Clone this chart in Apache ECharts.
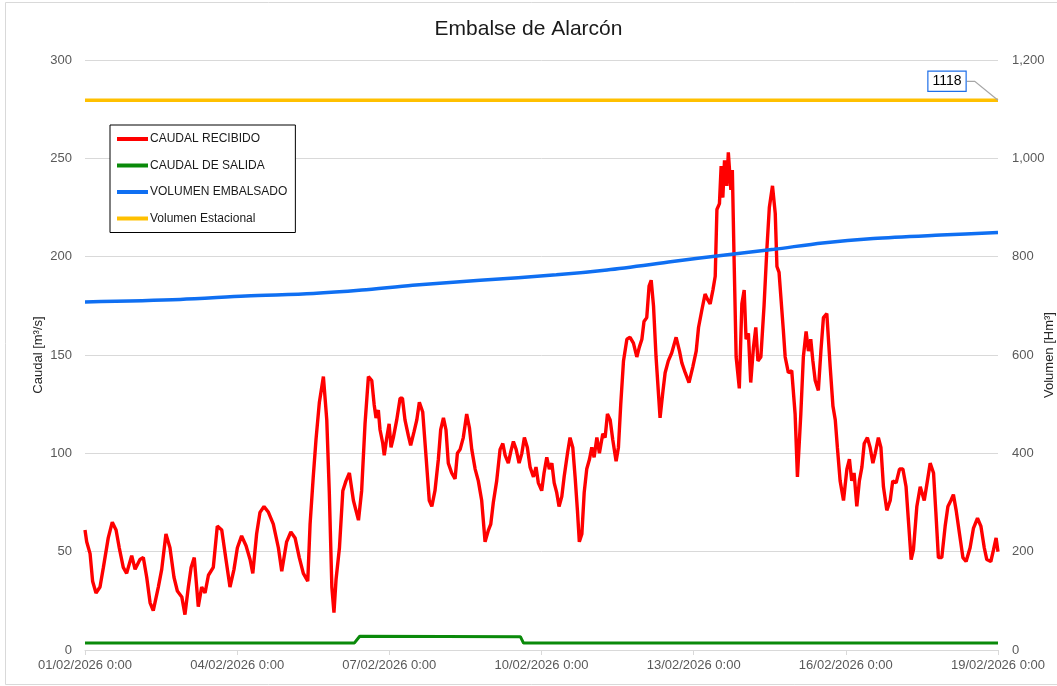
<!DOCTYPE html>
<html>
<head>
<meta charset="utf-8">
<script src="https://cdn.jsdelivr.net/npm/echarts@6/dist/echarts.min.js"></script>
<style>
html,body{margin:0;padding:0;background:#fff;overflow:hidden;}
#chart{width:1057px;height:686px;}
</style>
</head>
<body>
<div id="chart"></div>
<script>
// ---- DATA (x = hours since 01/02/2026 0:00) ----
const startDate = [2026, 1, 1];
const xTickHours = [0, 72, 144, 216, 288, 360, 432];

const recibidoHours = [0,0.8,2.4,3.6,5.2,7.1,8.7,11.0,12.9,14.7,16.2,18.1,19.7,22.1,23.7,26.0,27.6,29.2,30.8,32.3,34.7,36.3,38.3,40.2,42.1,43.7,45.8,47.3,48.9,50.2,51.7,53.6,55.2,56.8,58.4,60.7,62.6,64.7,66.7,68.6,70.5,72.1,74.1,76.2,78.1,79.4,81.2,82.8,84.7,86.8,89.1,91.5,93.1,95.4,97.4,99.4,101.4,103.3,105.4,106.5,108.0,109.3,110.9,112.8,114.4,115.6,116.8,117.8,118.8,120.4,122.0,123.5,125.1,127.0,129.4,130.9,132.5,134.1,135.7,136.8,137.7,138.8,139.6,140.9,141.6,142.8,143.9,144.8,145.9,147.5,149.1,150.2,151.4,153.0,154.1,155.7,157.0,158.2,159.8,161.4,162.9,164.1,165.6,167.2,168.3,169.6,170.8,171.9,173.5,175.1,176.2,177.5,179.0,180.6,181.9,183.0,184.6,186.1,187.7,189.3,190.9,192.0,193.2,194.8,196.4,197.7,198.8,200.3,201.5,202.7,204.0,205.4,206.7,207.9,209.3,210.6,212.2,213.4,214.5,216.1,217.2,218.5,219.7,220.9,222.0,223.2,224.3,225.6,226.7,228.3,229.5,230.8,231.9,233.0,233.9,235.1,236.2,237.4,238.7,239.8,240.9,242.2,243.4,245.0,246.1,247.2,248.5,249.7,251.3,252.4,253.5,254.8,256.4,257.9,259.5,261.1,262.3,263.5,264.5,265.8,266.9,267.9,269.0,270.2,272.1,273.4,274.5,276.0,277.6,279.7,281.3,282.4,284.0,285.8,287.6,289.2,290.3,291.9,293.4,294.7,295.8,297.1,298.2,299.0,300.2,301.0,301.8,302.6,303.7,304.4,305.6,306.3,307.1,308.1,309.6,310.8,311.9,312.8,313.9,315.0,316.3,317.4,318.4,319.8,321.3,322.6,323.8,325.3,326.6,327.4,328.4,330.4,331.3,332.8,334.4,336.0,337.1,338.7,339.9,341.2,342.3,343.4,344.4,345.5,347.0,348.2,349.4,351.0,352.6,353.9,355.0,356.0,357.3,358.9,360.5,361.7,362.8,363.9,365.2,366.4,367.6,368.7,370.2,371.5,372.8,373.9,375.4,376.6,377.8,379.4,381.0,382.2,383.8,385.4,387.0,388.5,389.6,390.9,392.0,393.6,395.2,397.1,398.6,399.9,401.5,402.6,403.8,405.4,407.0,408.3,409.7,410.9,412.2,413.8,415.4,416.9,418.8,420.4,422.3,423.9,425.5,426.7,428.6,429.9,431.1,432];
const recibidoValues = [61,55,49,35,29,32,42,57,65,61,52,42,39,48,41,46,47,37,24,20,32,41,59,52,37,30,27,18,32,42,47,22,32,29,38,42,63,61,46,32,41,52,58,53,46,39,59,70,73,70,64,52,40,55,60,57,47,39,35,64,88,107,126,139,117,80,32,19,36,52,81,86,90,76,66,81,115,139,137,125,118,122,112,105,99,108,115,103,108,117,128,128,117,109,104,111,117,126,121,98,76,73,81,97,112,118,112,95,90,87,100,102,108,120,113,102,92,86,76,55,61,64,75,86,102,105,99,95,101,106,102,95,100,108,103,93,88,93,85,81,90,98,92,95,85,80,73,78,88,100,108,103,88,71,55,59,80,92,97,103,98,108,100,110,108,120,117,107,96,103,125,147,158,159,156,149,154,158,167,169,185,188,175,149,118,131,141,147,151,159,152,146,141,136,144,152,164,173,181,178,176,183,190,224,227,246,230,249,236,253,234,244,200,149,133,176,183,158,161,136,154,164,147,149,175,203,225,236,222,195,192,163,149,141,142,120,88,120,149,162,152,158,147,137,132,152,169,171,144,124,117,103,86,76,92,97,86,90,73,86,93,105,108,103,95,100,108,103,83,71,76,86,85,92,92,83,66,46,51,73,83,76,86,95,90,70,47,47,63,73,76,79,71,59,47,45,52,62,67,63,52,46,45,51,57,50];

const salidaHours = [0, 60, 127.5, 130, 170, 206, 207.5, 300, 432];
const salidaValues = [3.5, 3.6, 3.6, 7.0, 6.9, 6.8, 3.5, 3.6, 3.6];

const volumenHours = [0, 45, 76, 108, 131, 155, 187, 223, 247, 278, 302, 326, 349, 373, 405, 432];
const volumenValues = [708, 713, 720, 725, 732, 742, 752, 763, 773, 790, 803, 815, 828, 837, 844, 849];

const estacionalHours = [0, 432];
const estacionalValues = [1118, 1118];

const seriesNames = ['CAUDAL RECIBIDO', 'CAUDAL DE SALIDA', 'VOLUMEN EMBALSADO', 'Volumen Estacional'];
const seriesColors = ['#ff0000', '#0a8a0a', '#0f6ff2', '#ffc000'];

// ---- helpers ----
function pairs(h, v) { return h.map((x, i) => [x, v[i]]); }
function pad2(n) { return (n < 10 ? '0' : '') + n; }
function fmtDate(hours) {
  const t = Date.UTC(startDate[0], startDate[1], startDate[2]) + hours * 3600000;
  const d = new Date(t);
  return pad2(d.getUTCDate()) + '/' + pad2(d.getUTCMonth() + 1) + '/' + d.getUTCFullYear() + ' ' + d.getUTCHours() + ':' + pad2(d.getUTCMinutes());
}
function fmtThousands(v) { return String(v).replace(/\B(?=(\d{3})+(?!\d))/g, ','); }

const lastEst = estacionalValues.length - 1;
const estacionalData = pairs(estacionalHours, estacionalValues).map((p, i) => i === lastEst ? {
  value: p,
  label: {
    show: true,
    position: 'inside',
    formatter: String(estacionalValues[lastEst]),
    color: '#000', fontSize: 14, fontFamily: 'Liberation Sans',
    backgroundColor: '#fff', borderColor: '#1f6fe8', borderWidth: 1.2,
    padding: [3, 4, 2, 4]
  }
} : p);

const chart = echarts.init(document.getElementById('chart'), null, { renderer: 'canvas' });
const font = 'Liberation Sans';
chart.setOption({
  animation: false,
  backgroundColor: '#fff',
  textStyle: { fontFamily: font },
  graphic: [{
    type: 'rect', silent: true, z: -10,
    shape: { x: 5.5, y: 2.5, width: 1070, height: 682 },
    style: { fill: 'none', stroke: '#d9d9d9', lineWidth: 1 }
  }],
  title: {
    text: 'Embalse de Alarcón', left: 'center', top: 19, padding: 0,
    textStyle: { fontSize: 21, fontWeight: 'normal', color: '#1a1a1a', fontFamily: font }
  },
  legend: {
    orient: 'vertical', left: 110, top: 125,
    padding: [7, 8, 7, 7],
    itemWidth: 31, itemHeight: 4, itemGap: 12.5,
    icon: 'rect',
    borderColor: '#000', borderWidth: 1, backgroundColor: '#fff',
    textStyle: { fontSize: 12, color: '#1a1a1a', fontFamily: font, padding: [0, 0, 0, -3], lineHeight: 14 },
    data: seriesNames
  },
  grid: { left: 85, right: 59, top: 60, bottom: 36, containLabel: false, outerBoundsMode: 'none' },
  xAxis: {
    type: 'value', min: 0, max: 432, interval: 72,
    axisLine: { show: true, lineStyle: { color: '#d9d9d9', width: 1 } },
    axisTick: { show: true, length: 5, lineStyle: { color: '#d9d9d9' } },
    splitLine: { show: false },
    axisLabel: { color: '#595959', fontSize: 13, margin: 9, formatter: (v) => fmtDate(v), showMinLabel: true, showMaxLabel: true }
  },
  yAxis: [{
    type: 'value', min: 0, max: 300, interval: 50,
    name: 'Caudal [m³/s]', nameLocation: 'middle', nameGap: 40, nameMoveOverlap: false,
    nameTextStyle: { color: '#262626', fontSize: 13, fontFamily: font },
    axisLine: { show: false }, axisTick: { show: false },
    splitLine: { lineStyle: { color: '#d9d9d9', width: 1 } },
    axisLabel: { color: '#595959', fontSize: 13, margin: 13 }
  }, {
    type: 'value', min: 0, max: 1200, interval: 200, position: 'right',
    name: 'Volumen [Hm³]', nameLocation: 'middle', nameGap: 45, nameMoveOverlap: false,
    nameTextStyle: { color: '#262626', fontSize: 13, fontFamily: font },
    axisLine: { show: false }, axisTick: { show: false },
    splitLine: { show: false },
    axisLabel: { color: '#595959', fontSize: 13, margin: 14, formatter: (v) => fmtThousands(v) }
  }],
  series: [{
    name: seriesNames[0], type: 'line', yAxisIndex: 0, showSymbol: false, symbol: 'none',
    data: pairs(recibidoHours, recibidoValues),
    lineStyle: { color: seriesColors[0], width: 3.4 }, itemStyle: { color: seriesColors[0] }
  }, {
    name: seriesNames[1], type: 'line', yAxisIndex: 0, showSymbol: false, symbol: 'none',
    data: pairs(salidaHours, salidaValues),
    lineStyle: { color: seriesColors[1], width: 3 }, itemStyle: { color: seriesColors[1] }
  }, {
    name: seriesNames[2], type: 'line', yAxisIndex: 1, showSymbol: false, symbol: 'none', smooth: 0.3,
    data: pairs(volumenHours, volumenValues),
    lineStyle: { color: seriesColors[2], width: 3.5 }, itemStyle: { color: seriesColors[2] }
  }, {
    name: seriesNames[3], type: 'line', yAxisIndex: 1, showSymbol: true, symbol: 'circle', symbolSize: 0.01,
    data: estacionalData,
    labelLayout: { dx: -51, dy: -19 },
    labelLine: { show: true, length2: 8, lineStyle: { color: '#a6a6a6', width: 1.2 } },
    lineStyle: { color: seriesColors[3], width: 3.5 }, itemStyle: { color: seriesColors[3] }
  }]
});
</script>
</body>
</html>
